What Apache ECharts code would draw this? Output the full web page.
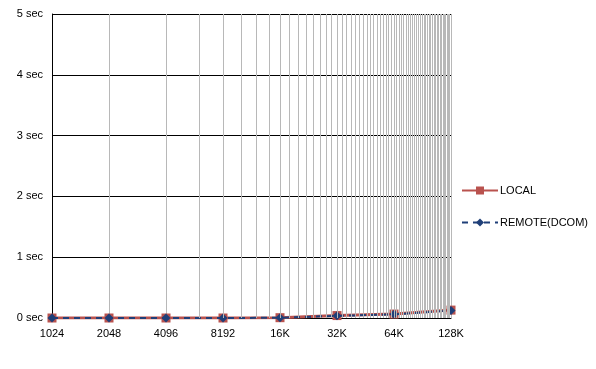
<!DOCTYPE html>
<html><head><meta charset="utf-8">
<script src="https://cdn.jsdelivr.net/npm/echarts@6/dist/echarts.min.js"></script>
<style>html,body{margin:0;padding:0;background:#fff}#c{width:596px;height:369px}</style>
</head><body><div id="c"></div>
<script>
var sizes = [1024, 2048, 4096, 8192, 16384, 32768, 65536, 131072];
var localSec = [0, 0, 0, 0, 0.005, 0.04, 0.065, 0.13];
var remoteSec = [0, 0, 0, 0, 0.004, 0.035, 0.06, 0.125];
var yTicks = [0, 1, 2, 3, 4, 5];

var gridVals = [];
for (var k = 3; k <= 63; k++) { gridVals.push({xAxis: k * 2048}); }

var font = 'Liberation Sans';
var chart = echarts.init(document.getElementById('c'));
chart.setOption({
  animation: false,
  grid: {left: 52, right: 145, top: 14, bottom: 51},
  legend: {
    orient: 'vertical', left: 456, top: 180, itemGap: 21,
    itemWidth: 36, itemHeight: 10,
    data: ['LOCAL', 'REMOTE(DCOM)'],
    textStyle: {fontFamily: font, fontSize: 11, color: '#000', padding: [0, 0, 0, -3]}
  },
  xAxis: {
    type: 'log', logBase: 2, min: 1024, max: 131072, splitNumber: 7,
    axisLine: {show: true, onZero: false, lineStyle: {color: '#000', width: 1}},
    axisTick: {show: false},
    splitLine: {show: true, lineStyle: {color: '#b8b8b8', width: 1}},
    axisLabel: {
      fontFamily: font, fontSize: 11, color: '#000', margin: 10,
      formatter: function (v) { return v >= 16384 ? Math.round(v / 1024) + 'K' : String(Math.round(v)); }
    }
  },
  yAxis: {
    type: 'value', min: yTicks[0], max: yTicks[yTicks.length - 1], interval: 1,
    axisLine: {show: true, lineStyle: {color: '#000', width: 1}},
    axisTick: {show: false},
    splitLine: {show: true, lineStyle: {color: '#000', width: 1}},
    axisLabel: {fontFamily: font, fontSize: 11, color: '#000', margin: 9, formatter: '{value} sec'}
  },
  series: [
    {
      name: 'grid', type: 'line', data: [], silent: true, z: 1, symbol: 'none',
      markLine: {silent: true, symbol: 'none', label: {show: false},
        lineStyle: {color: '#b8b8b8', width: 1, type: 'solid'}, data: gridVals}
    },
    {
      name: 'LOCAL', type: 'line', z: 3,
      data: sizes.map(function (s, i) { return [s, localSec[i]]; }),
      symbol: 'rect', symbolSize: 9,
      lineStyle: {color: '#b9524e', width: 3},
      itemStyle: {color: '#b9524e'}
    },
    {
      name: 'REMOTE(DCOM)', type: 'line', z: 4,
      data: sizes.map(function (s, i) { return [s, remoteSec[i]]; }),
      symbol: 'diamond', symbolSize: 9,
      lineStyle: {color: '#1f3f78', width: 2, type: [6, 5]},
      itemStyle: {color: '#1f3f78'}
    }
  ]
});
</script></body></html>
